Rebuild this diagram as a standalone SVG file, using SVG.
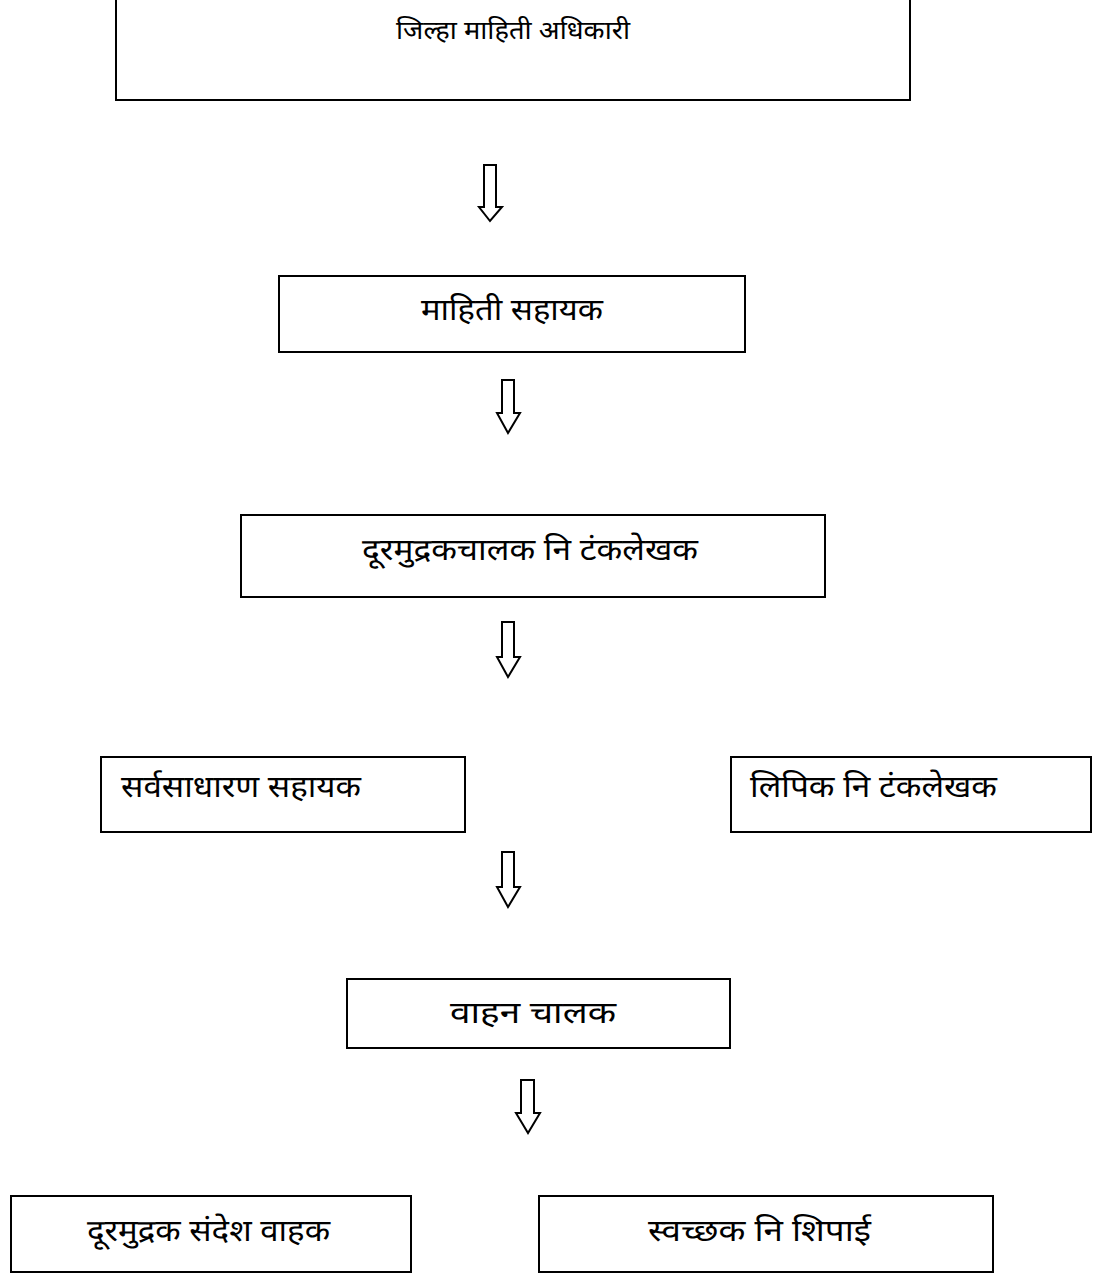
<svg xmlns="http://www.w3.org/2000/svg" width="1100" height="1277" viewBox="0 0 1100 1277">
<style>
.box{fill:#fff;stroke:#000;stroke-width:2}
.t{font-family:"Noto Sans Devanagari","Noto Sans","Lohit Devanagari","FreeSans",sans-serif;fill:#000}
.arr{fill:#fff;stroke:#000;stroke-width:2;stroke-linejoin:miter}
</style>
<rect width="1100" height="1277" fill="#fff"/>
<g id="n1"><rect class="box" x="116" y="-1" width="794" height="101"/><text class="t" x="513" y="39" font-size="25" text-anchor="middle" textLength="234" lengthAdjust="spacingAndGlyphs">जिल्हा माहिती अधिकारी</text></g>
<g id="n2"><rect class="box" x="279" y="276" width="466" height="76"/><text class="t" x="512" y="320" font-size="30" text-anchor="middle" textLength="182" lengthAdjust="spacingAndGlyphs">माहिती सहायक</text></g>
<g id="n3"><rect class="box" x="241" y="515" width="584" height="82"/><text class="t" x="362" y="560" font-size="30" textLength="336" lengthAdjust="spacingAndGlyphs">दूरमुद्रकचालक नि टंकलेखक</text></g>
<g id="n4"><rect class="box" x="101" y="757" width="364" height="75"/><text class="t" x="121" y="797" font-size="30" textLength="240" lengthAdjust="spacingAndGlyphs">सर्वसाधारण सहायक</text></g>
<g id="n5"><rect class="box" x="731" y="757" width="360" height="75"/><text class="t" x="750" y="797" font-size="30" textLength="247" lengthAdjust="spacingAndGlyphs">लिपिक नि टंकलेखक</text></g>
<g id="n6"><rect class="box" x="347" y="979" width="383" height="69"/><text class="t" x="533" y="1023" font-size="30" text-anchor="middle" textLength="166" lengthAdjust="spacingAndGlyphs">वाहन चालक</text></g>
<g id="n7"><rect class="box" x="11" y="1196" width="400" height="76"/><text class="t" x="87" y="1241" font-size="30" textLength="243" lengthAdjust="spacingAndGlyphs">दूरमुद्रक संदेश वाहक</text></g>
<g id="n8"><rect class="box" x="539" y="1196" width="454" height="76"/><text class="t" x="648" y="1241" font-size="30" textLength="223" lengthAdjust="spacingAndGlyphs">स्वच्छक नि शिपाई</text></g>
<g id="connectors">
<path class="arr" d="M484,165 H496 V207 H502 L490,221 L479,207 H484 Z"/>
<path class="arr" d="M502,380 H514 V413 H520 L508,433 L497,413 H502 Z"/>
<path class="arr" d="M502,622 H514 V657 H520 L508,677 L497,657 H502 Z"/>
<path class="arr" d="M502,852 H514 V887 H520 L508,907 L497,887 H502 Z"/>
<path class="arr" d="M521,1080 H534 V1113 H540 L528,1133 L516,1113 H521 Z"/>
</g>
</svg>
